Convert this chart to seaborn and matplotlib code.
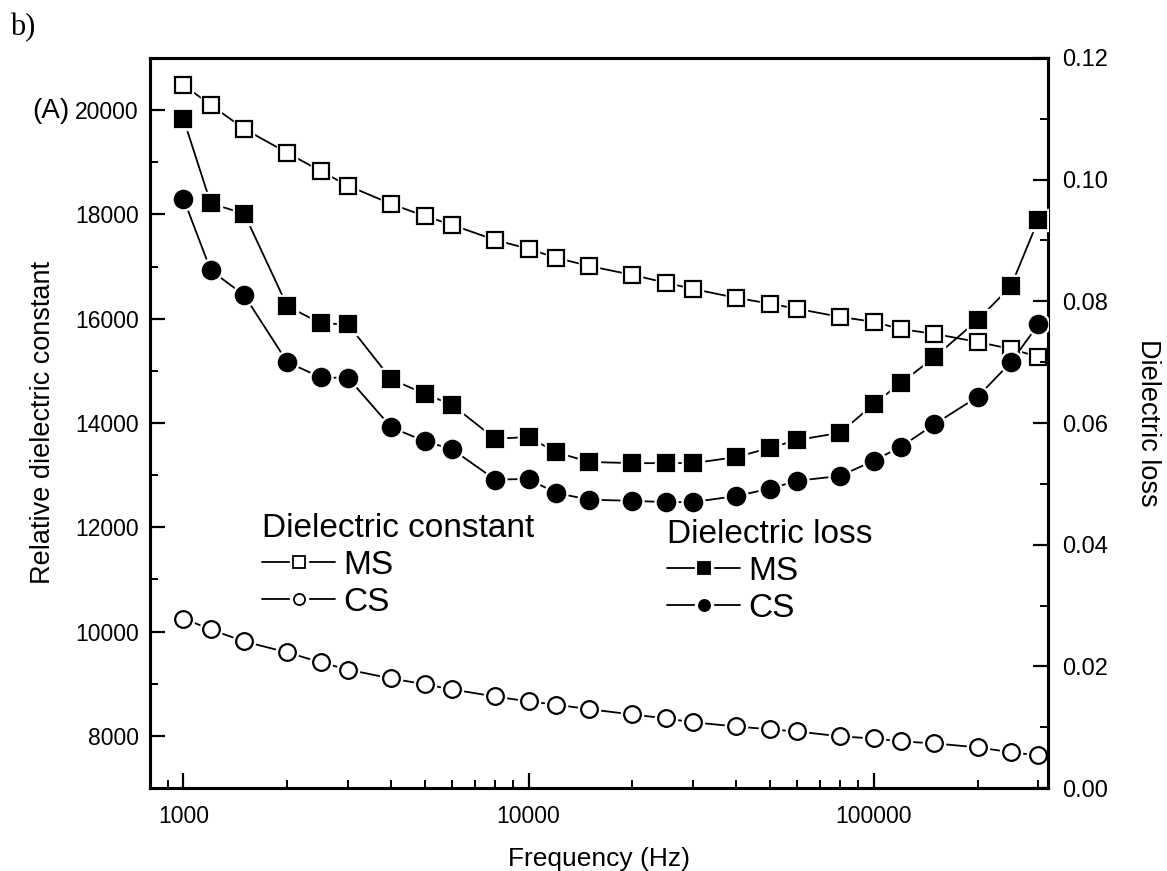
import numpy as np
import pandas as pd
import matplotlib
matplotlib.use("Agg")
import matplotlib.pyplot as plt
from matplotlib.lines import Line2D
from matplotlib.ticker import LogLocator, FixedLocator, MultipleLocator, NullFormatter, FuncFormatter
import seaborn as sns

freq = [1000, 1200, 1500, 2000, 2500, 3000, 4000, 5000, 6000, 8000, 10000, 12000, 15000,
        20000, 25000, 30000, 40000, 50000, 60000, 80000, 100000, 120000, 150000, 200000,
        250000, 300000]

eps_ms = [20480, 20100, 19640, 19180, 18830, 18550, 18200, 17970, 17800, 17510, 17340, 17170,
          17010, 16840, 16690, 16570, 16400, 16290, 16190, 16035, 15940, 15800, 15710, 15555,
          15420, 15270]
eps_cs = [10250, 10040, 9810, 9600, 9410, 9270, 9100, 8990, 8890, 8755, 8660, 8600, 8510,
          8410, 8335, 8260, 8180, 8125, 8085, 7990, 7950, 7895, 7855, 7780, 7685, 7625]

loss_ms = [0.1100, 0.0961, 0.0944, 0.0792, 0.0764, 0.0762, 0.0672, 0.0648, 0.0630, 0.0574,
           0.0577, 0.0552, 0.0536, 0.0534, 0.0534, 0.0534, 0.0544, 0.0559, 0.0572, 0.0584,
           0.0631, 0.0666, 0.0708, 0.0769, 0.0825, 0.0934]
loss_cs = [0.0969, 0.0851, 0.0810, 0.0700, 0.0675, 0.0674, 0.0593, 0.0570, 0.0557, 0.0507,
           0.0508, 0.0485, 0.0474, 0.0472, 0.0470, 0.0470, 0.0480, 0.0492, 0.0505, 0.0513,
           0.0538, 0.0561, 0.0598, 0.0643, 0.0700, 0.0762]

x_ticks = [1000, 10000, 100000]

sns.set_style("ticks")
plt.rcParams['font.family'] = ['Liberation Sans', 'DejaVu Sans']
plt.rcParams['text.color'] = 'black'
plt.rcParams['axes.labelcolor'] = 'black'
plt.rcParams['xtick.color'] = 'black'
plt.rcParams['ytick.color'] = 'black'

fig = plt.figure(figsize=(11.67, 8.71), dpi=100)
ax = fig.add_axes([150 / 1167, 1 - 788 / 871, 898 / 1167, 730 / 871])
ax2 = ax.twinx()


def draw(axis, y, marker, filled, ms):
    df = pd.DataFrame({'f': freq, 'v': y})
    sns.lineplot(data=df, x='f', y='v', ax=axis, color='black', linewidth=1.3, zorder=2)
    # white halo so the connecting line stops short of each symbol
    sns.lineplot(data=df, x='f', y='v', ax=axis, linestyle='', marker=marker,
                 markersize=ms + 4, markerfacecolor='white', markeredgecolor='white',
                 markeredgewidth=1, zorder=3)
    sns.lineplot(data=df, x='f', y='v', ax=axis, linestyle='', marker=marker,
                 markersize=ms, markerfacecolor='black' if filled else 'white',
                 markeredgecolor='black', markeredgewidth=1.6, zorder=4)


draw(ax, eps_ms, 's', False, 11)
draw(ax, eps_cs, 'o', False, 12)
draw(ax2, loss_ms, 's', True, 12)
draw(ax2, loss_cs, 'o', True, 12.5)

ax.set_xscale('log')
ax.set_xlim(800, 320000)
ax.set_ylim(7000, 21000)
ax2.set_ylim(0, 0.12)

ax.xaxis.set_major_locator(FixedLocator(x_ticks))
ax.xaxis.set_major_formatter(FuncFormatter(lambda v, p: f"{int(round(v))}"))
ax.xaxis.set_minor_locator(LogLocator(base=10, subs=np.arange(2, 10)))
ax.xaxis.set_minor_formatter(NullFormatter())
ax.yaxis.set_major_locator(MultipleLocator(2000))
ax.yaxis.set_minor_locator(MultipleLocator(1000))
ax2.yaxis.set_major_locator(MultipleLocator(0.02))
ax2.yaxis.set_minor_locator(MultipleLocator(0.01))
ax2.yaxis.set_major_formatter(FuncFormatter(lambda v, p: f"{v:.2f}"))

for a in (ax, ax2):
    for s in a.spines.values():
        s.set_linewidth(2.2)
        s.set_color('black')
        s.set_visible(True)

ax.tick_params(axis='both', which='major', direction='in', length=10.5, width=1.6,
               labelsize=16.5, colors='black', top=False, right=False)
ax.tick_params(axis='both', which='minor', direction='in', length=5.5, width=1.4,
               top=False, right=False)
ax.tick_params(axis='y', pad=8)
ax.tick_params(axis='x', pad=12)
ax2.tick_params(axis='y', which='major', direction='in', length=10.5, width=1.6,
                labelsize=17, colors='black', pad=10)
ax2.tick_params(axis='y', which='minor', direction='in', length=5.5, width=1.4)

ax.set_xlabel('Frequency (Hz)', fontsize=19, labelpad=14)
ax.set_ylabel('Relative dielectric constant', fontsize=19.5, labelpad=14)
ax2.set_ylabel('Dielectric loss', fontsize=19.5, rotation=270, labelpad=38)


def handle(marker, filled):
    line = Line2D([], [], color='black', linewidth=1.3)
    halo = Line2D([], [], linestyle='', marker=marker, markersize=13,
                  markerfacecolor='white', markeredgecolor='white')
    mk = Line2D([], [], linestyle='', marker=marker, markersize=8,
                markerfacecolor='black' if filled else 'white',
                markeredgecolor='black', markeredgewidth=1.3)
    return (line, halo, mk)


leg_kw = dict(frameon=False, fontsize=24, title_fontsize=24, handlelength=2.2,
              handletextpad=0.25, labelspacing=0.18, borderpad=0, borderaxespad=0,
              alignment='left', loc='upper left')
leg1 = ax2.legend([handle('s', False), handle('o', False)], ['MS', 'CS'],
                  title='Dielectric constant',
                  bbox_to_anchor=(262 / 1167, 1 - 513 / 871),
                  bbox_transform=fig.transFigure, **leg_kw)
ax2.add_artist(leg1)
ax2.legend([handle('s', True), handle('o', True)], ['MS', 'CS'],
           title='Dielectric loss',
           bbox_to_anchor=(667 / 1167, 1 - 519 / 871),
           bbox_transform=fig.transFigure, **leg_kw)

fig.text(32 / 1167, 1 - 111 / 871, '(A)', fontsize=20, va='center', ha='left')
fig.text(10 / 1167, 1 - 28 / 871, 'b)', fontsize=22, va='center', ha='left',
         family=['Liberation Serif', 'DejaVu Serif'])

fig.savefig('out.png', dpi=100, facecolor='white')
